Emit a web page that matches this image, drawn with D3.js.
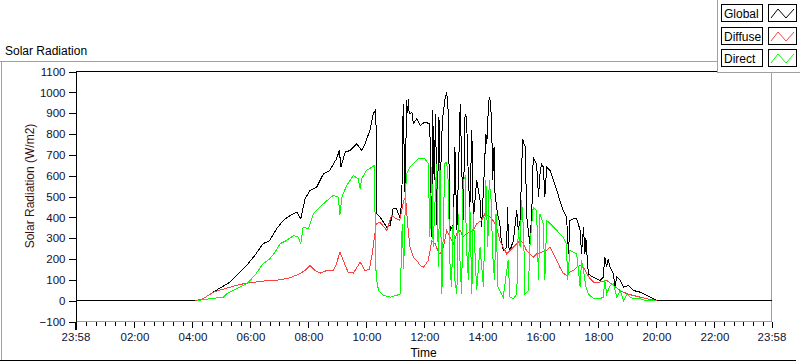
<!DOCTYPE html>
<html>
<head>
<meta charset="utf-8">
<script src="https://cdn.jsdelivr.net/npm/d3@7"></script>
<style>
  html, body { margin: 0; padding: 0; background: #fff; }
  svg { display: block; }
  text { font-family: "Liberation Sans", Arial, sans-serif; }
</style>
</head>
<body>
<svg id="chart" width="800" height="361"></svg>
<script>
// ---------- DATA (minute of day, W/m2) ----------
const chartTitle = "Solar Radiation";
const yAxisTitle = "Solar Radiation (W/m2)";
const xAxisTitle = "Time";
const seriesNames = ["Global", "Diffuse", "Direct"];
const seriesColors = ["#000000", "#ff4040", "#00ff00"];

const yTickValues = [-100, 0, 100, 200, 300, 400, 500, 600, 700, 800, 900, 1000, 1100];
const xTickMinutes = [-2, 120, 240, 360, 480, 600, 720, 840, 960, 1080, 1200, 1320, 1438];
const xTickLabels = ["23:58", "02:00", "04:00", "06:00", "08:00", "10:00", "12:00", "14:00", "16:00", "18:00", "20:00", "22:00", "23:58"];
const xDomain = [-2, 1438];
const yDomain = [-100, 1100];

const globalPoints = [
  [-2,0],[245,0],[262,9],[283,41],[300,65],[318,89],[335,129],[352,169],[369,217],[386,273],
  [400,289],[414,345],[428,385],[442,409],[456,425],[464,393],[473,489],[483,529],[497,545],[511,609],
  [524,625],[538,681],[544,721],[547,641],[556,713],[566,721],[580,753],[590,721],[597,753],[607,817],
  [614,897],[618,913],[620,833],[621,417],[628,401],[642,353],[649,361],[655,441],[662,441],[669,401],
  [673,473],[676,945],[680,497],[683,961],[685,900],[687,969],[688,910],[690,897],[694,905],[697,849],[704,873],[711,841],
  [721,857],[731,849],[735,305],[737,913],[740,577],[743,897],[746,353],[750,881],[753,577],[757,865],
  [762,961],[766,1001],[769,913],[773,337],[780,369],[783,737],[787,337],[790,577],[794,945],[797,657],
  [800,385],[804,897],[807,881],[811,577],[814,449],[818,817],[821,385],[828,577],[835,481],[838,353],
  [842,529],[847,801],[849,753],[852,913],[854,977],[856,960],[859,865],[861,577],[864,737],[866,513],[871,417],[876,369],[878,305],[883,241],
  [890,257],[892,449],[894,260],[897,241],[904,289],[911,433],[914,337],[918,385],[923,777],[926,753],[929,737],[931,417],
  [938,273],[942,420],[945,689],[952,657],[956,500],[959,609],[962,657],[966,641],[969,497],[973,641],
  [980,625],[987,577],[994,529],[1000,481],[1007,433],[1014,401],[1018,225],[1021,385],[1028,393],[1035,393],
  [1038,370],[1042,337],[1045,225],[1049,353],[1052,225],[1054,300],[1059,129],[1063,121],[1070,113],[1083,97],
  [1090,113],[1093,209],[1097,161],[1100,200],[1104,161],[1111,129],[1114,65],[1118,113],[1125,97],[1132,65],
  [1142,73],[1152,49],[1166,41],[1180,25],[1194,9],[1200,0],[1438,0]
];

const diffusePoints = [
  [245,0],[262,9],[283,41],[318,65],[335,76],[352,84],[386,94],[421,100],[442,110],[462,129],
  [473,145],[483,169],[493,145],[504,132],[518,145],[531,145],[538,177],[545,233],[552,193],[562,137],
  [573,132],[587,185],[597,145],[606,150],[613,241],[620,369],[628,377],[642,337],[652,409],[662,393],
  [669,385],[677,481],[681,497],[685,369],[690,257],[697,209],[704,193],[711,169],[718,161],[728,193],
  [735,289],[742,273],[749,233],[752,225],[759,257],[766,337],[773,305],[780,273],[787,321],[794,337],
  [800,305],[807,321],[821,337],[828,369],[838,385],[845,417],[856,401],[862,385],[869,353],[876,289],
  [883,257],[890,225],[897,241],[904,257],[911,273],[918,289],[925,273],[931,241],[938,225],[945,209],
  [952,225],[962,233],[973,241],[980,257],[987,225],[994,193],[1000,161],[1007,133],[1014,121],[1021,137],
  [1028,145],[1035,161],[1042,169],[1049,161],[1056,129],[1063,105],[1070,89],[1083,89],[1097,97],[1111,73],
  [1125,49],[1139,33],[1152,25],[1166,17],[1180,9],[1194,4],[1200,0]
];

const directPoints = [
  [249,0],[276,9],[304,17],[311,33],[331,57],[352,81],[369,121],[386,177],[400,201],[411,233],
  [421,273],[435,289],[449,313],[459,305],[464,273],[469,353],[480,345],[490,417],[511,465],[531,505],
  [542,497],[545,409],[549,497],[559,553],[573,601],[583,585],[587,537],[590,585],[600,625],[611,641],
  [616,649],[620,113],[625,49],[635,25],[649,17],[662,25],[670,33],[674,369],[677,150],[681,529],
  [683,609],[690,641],[697,657],[707,681],[721,681],[728,657],[731,305],[735,641],[738,257],[745,657],
  [749,161],[752,657],[756,33],[762,657],[766,665],[769,577],[773,161],[776,65],[780,449],[783,97],
  [787,33],[790,417],[794,161],[797,33],[800,577],[804,593],[807,257],[811,97],[814,449],[818,33],
  [821,417],[828,49],[835,257],[842,65],[847,577],[851,257],[854,577],[858,481],[861,225],[865,97],
  [868,417],[872,65],[876,49],[883,17],[893,193],[897,17],[904,9],[911,33],[914,337],[918,257],
  [921,481],[925,337],[928,33],[935,49],[938,257],[945,449],[952,433],[956,97],[959,417],[966,369],
  [969,97],[973,385],[980,369],[987,353],[994,337],[1000,321],[1007,305],[1014,273],[1016,97],[1021,241],
  [1028,233],[1035,225],[1042,65],[1045,193],[1049,145],[1054,65],[1059,33],[1070,9],[1083,9],[1090,17],
  [1093,97],[1097,33],[1104,73],[1111,81],[1118,17],[1125,49],[1132,0],[1139,33],[1145,17],[1152,9],
  [1166,9],[1180,0],[1200,0]
];

// ---------- DRAW ----------
const svg = d3.select("#chart");
const plot = { left: 75.5, right: 771.5, top: 71.5, bottom: 321.5 };

const x = d3.scaleLinear().domain(xDomain).range([plot.left, plot.right]);
const y = d3.scaleLinear().domain(yDomain).range([plot.bottom, plot.top]);

// outer panel
svg.append("rect").attr("width", 800).attr("height", 361).attr("fill", "#fff");
svg.append("line").attr("x1", 0).attr("x2", 717).attr("y1", 61.5).attr("y2", 61.5)
  .attr("stroke", "#a0a0a0").attr("shape-rendering", "crispEdges");
svg.append("line").attr("x1", 1.5).attr("x2", 1.5).attr("y1", 61.5).attr("y2", 360)
  .attr("stroke", "#a0a0a0").attr("shape-rendering", "crispEdges");
svg.append("line").attr("x1", 0).attr("x2", 796).attr("y1", 360.5).attr("y2", 360.5)
  .attr("stroke", "#000").attr("shape-rendering", "crispEdges");

svg.append("text").attr("x", 5).attr("y", 55).attr("font-size", "12px").attr("fill", "#000")
  .text(chartTitle);

// plot frame
svg.append("line").attr("x1", plot.left).attr("x2", plot.right).attr("y1", plot.top).attr("y2", plot.top)
  .attr("stroke", "#000").attr("shape-rendering", "crispEdges");
svg.append("line").attr("x1", plot.right).attr("x2", plot.right).attr("y1", plot.top).attr("y2", plot.bottom)
  .attr("stroke", "#a0a0a0").attr("shape-rendering", "crispEdges");
svg.append("line").attr("x1", plot.left).attr("x2", plot.right).attr("y1", plot.bottom).attr("y2", plot.bottom)
  .attr("stroke", "#a0a0a0").attr("shape-rendering", "crispEdges");

// y axis
const yAxis = d3.axisLeft(y).tickValues(yTickValues).tickSize(7).tickPadding(3).tickFormat(d3.format("d"));
const gy = svg.append("g").attr("transform", `translate(${plot.left},0)`).call(yAxis);
gy.select(".domain").attr("stroke", "#000").attr("shape-rendering", "crispEdges");
gy.selectAll(".tick line").attr("stroke", "#000").attr("shape-rendering", "crispEdges");
gy.selectAll(".tick text").attr("font-size", "11.5px").attr("fill", "#101030")
  .attr("font-family", "'Liberation Sans', Arial, sans-serif");

// x axis (major)
const xAxis = d3.axisBottom(x).tickValues(xTickMinutes).tickSize(6).tickPadding(5)
  .tickFormat((d, i) => xTickLabels[i]);
const gx = svg.append("g").attr("transform", `translate(0,${plot.bottom})`).call(xAxis);
gx.select(".domain").remove();
gx.selectAll(".tick line").attr("stroke", "#000").attr("shape-rendering", "crispEdges");
gx.selectAll(".tick text").attr("font-size", "11.5px").attr("fill", "#101030")
  .attr("font-family", "'Liberation Sans', Arial, sans-serif");
gx.select(".tick line").attr("stroke-width", 2).attr("y2", 8);

// x minor ticks every 20 minutes
const minorMinutes = d3.range(20, 1438, 20).filter(m => m % 120 !== 0);
svg.append("g").selectAll("line").data(minorMinutes).join("line")
  .attr("x1", d => Math.round(x(d)) + 0.5).attr("x2", d => Math.round(x(d)) + 0.5)
  .attr("y1", plot.bottom).attr("y2", plot.bottom + 4)
  .attr("stroke", "#000").attr("shape-rendering", "crispEdges");

// axis titles
svg.append("text").attr("transform", "translate(34,186) rotate(-90)")
  .attr("text-anchor", "middle").attr("font-size", "12px").attr("fill", "#3a1010")
  .text(yAxisTitle);
svg.append("text").attr("x", (plot.left + plot.right) / 2).attr("y", 357)
  .attr("text-anchor", "middle").attr("font-size", "12px").attr("fill", "#000")
  .text(xAxisTitle);

// data lines
const line = d3.line().x(d => x(d[0])).y(d => y(d[1]));
const allSeries = [globalPoints, diffusePoints, directPoints];
const lineG = svg.append("g");
allSeries.forEach((pts, i) => {
  lineG.append("path").datum(pts).attr("d", line)
    .attr("fill", "none").attr("stroke", seriesColors[i]).attr("stroke-width", 1)
    .attr("stroke-linejoin", "miter").attr("shape-rendering", "crispEdges");
});

// legend
const lg = svg.append("g");
lg.append("rect").attr("x", 717.5).attr("y", -1).attr("width", 90).attr("height", 73.5)
  .attr("fill", "#fff").attr("stroke", "#a0a0a0").attr("shape-rendering", "crispEdges");
const rowTops = [4, 27, 49];
seriesNames.forEach((name, i) => {
  const t = rowTops[i];
  lg.append("rect").attr("x", 721.5).attr("y", t + 0.5).attr("width", 41).attr("height", 17)
    .attr("fill", "#fff").attr("stroke", "#000").attr("shape-rendering", "crispEdges");
  lg.append("text").attr("x", 724).attr("y", t + 13.5).attr("font-size", "12px").attr("fill", "#000")
    .text(name);
  lg.append("rect").attr("x", 768.5).attr("y", t + 0.5).attr("width", 28).attr("height", 17)
    .attr("fill", "#fff").attr("stroke", "#000").attr("shape-rendering", "crispEdges");
  const sx = 769, sy = t + 1;
  lg.append("polyline")
    .attr("points", `${sx + 2},${sy + 13} ${sx + 9},${sy + 4} ${sx + 17},${sy + 13} ${sx + 25},${sy + 4}`)
    .attr("fill", "none").attr("stroke", seriesColors[i]).attr("stroke-width", 1);
});
</script>
</body>
</html>
